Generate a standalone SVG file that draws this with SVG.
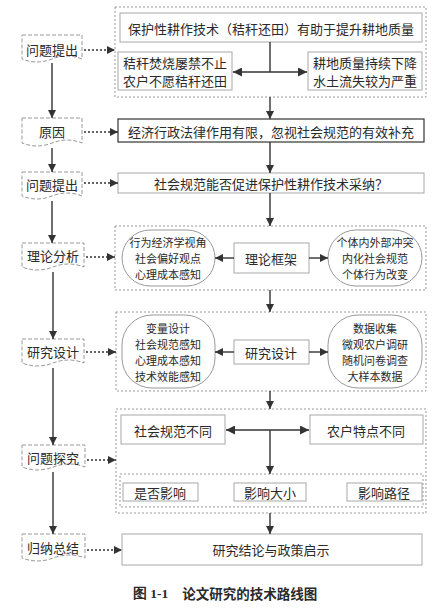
<svg xmlns="http://www.w3.org/2000/svg" width="434" height="612" viewBox="0 0 434 612">
<defs>
<style>
text{font-family:"Noto Sans CJK SC","Noto Sans",sans-serif;fill:#2a2a2a;font-size:13px;text-anchor:middle;dominant-baseline:central}
.sm{font-size:11px}
.box{fill:#fff;stroke:#a8a8a8;stroke-width:1}
.dark{fill:#fff;stroke:#333;stroke-width:1.2}
.outer{fill:none;stroke:#9a9a9a;stroke-width:1;stroke-dasharray:2,2}
.doc{fill:#fff;stroke:#999;stroke-width:1;stroke-dasharray:4,2}
.pill{fill:#fff;stroke:#999;stroke-width:1}
.ln{fill:none;stroke:#333;stroke-width:1.4}
.dot{fill:none;stroke:#333;stroke-width:1.3;stroke-dasharray:2,2}
</style>
<marker id="ah" viewBox="0 0 10 10" refX="10" refY="5" markerWidth="8" markerHeight="8" markerUnits="userSpaceOnUse" orient="auto"><path d="M0,0 L10,5 L0,10 Z" fill="#333"/></marker>
<marker id="ahs" viewBox="0 0 10 10" refX="10" refY="5" markerWidth="9" markerHeight="9" markerUnits="userSpaceOnUse" orient="auto-start-reverse"><path d="M0,0 L10,5 L0,10 Z" fill="#333"/></marker>
</defs>

<!-- left labels -->
<g id="l1"><path class="doc" d="M22,35 H82 V59 C72,55 62,55 52,59 C42,63 32,63 22,59 Z"/><text x="52" y="49">问题提出</text></g>
<g id="l2"><path class="doc" d="M22,118 H82 V143 C72,139 62,139 52,143 C42,147 32,147 22,143 Z"/><text x="52" y="131">原因</text></g>
<g id="l3"><path class="doc" d="M22,172 H82 V196 C72,192 62,192 52,196 C42,200 32,200 22,196 Z"/><text x="52" y="184">问题提出</text></g>
<g id="l4"><path class="doc" d="M22,243 H84 V267 C74,263 63,263 53,267 C43,271 32,271 22,267 Z"/><text x="53" y="255">理论分析</text></g>
<g id="l5"><path class="doc" d="M22,339 H84 V363 C74,359 63,359 53,363 C43,367 32,367 22,363 Z"/><text x="53" y="351">研究设计</text></g>
<g id="l6"><path class="doc" d="M22,445 H85 V467 C75,463 64,463 53,467 C43,471 32,471 22,467 Z"/><text x="53" y="457">问题探究</text></g>
<g id="l7"><path class="doc" d="M22,534 H85 V558 C75,554 64,554 53,558 C43,562 32,562 22,558 Z"/><text x="53" y="547">归纳总结</text></g>

<!-- stage 1 -->
<g id="s1">
<rect class="outer" x="115" y="7" width="311" height="90"/>
<rect class="box" x="120" y="13" width="302" height="29"/>
<text x="271" y="28">保护性耕作技术（秸秆还田）有助于提升耕地质量</text>
<rect class="box" x="118" y="52" width="114" height="38"/>
<text x="175" y="62">秸秆焚烧屡禁不止</text><text x="175" y="80">农户不愿秸秆还田</text>
<rect class="box" x="308" y="52" width="114" height="38"/>
<text x="365" y="62">耕地质量持续下降</text><text x="365" y="80">水土流失较为严重</text>
</g>
<g id="s2"><rect class="dark" x="118" y="119" width="306" height="23"/><text x="271" y="131">经济行政法律作用有限，忽视社会规范的有效补充</text></g>
<g id="s3"><rect class="box" x="118" y="173" width="306" height="20"/><text x="271" y="183">社会规范能否促进保护性耕作技术采纳？</text></g>

<g id="s4">
<rect class="outer" x="115" y="226" width="311" height="64"/>
<rect class="pill" x="122" y="230" width="93" height="56" rx="28"/>
<text class="sm" x="168" y="242">行为经济学视角</text><text class="sm" x="168" y="258">社会偏好观点</text><text class="sm" x="168" y="274">心理成本感知</text>
<rect class="box" x="234" y="243" width="75" height="30"/><text x="271" y="258">理论框架</text>
<rect class="pill" x="328" y="230" width="94" height="56" rx="28"/>
<text class="sm" x="375" y="242">个体内外部冲突</text><text class="sm" x="375" y="258">内化社会规范</text><text class="sm" x="375" y="274">个体行为改变</text>
</g>

<g id="s5">
<rect class="outer" x="116" y="312" width="310" height="79"/>
<rect class="pill" x="122" y="315" width="93" height="73" rx="30"/>
<text class="sm" x="168" y="328">变量设计</text><text class="sm" x="168" y="344">社会规范感知</text><text class="sm" x="168" y="360">心理成本感知</text><text class="sm" x="168" y="376">技术效能感知</text>
<rect class="box" x="234" y="340" width="75" height="24"/><text x="271" y="352">研究设计</text>
<rect class="pill" x="328" y="315" width="94" height="73" rx="30"/>
<text class="sm" x="375" y="328">数据收集</text><text class="sm" x="375" y="344">微观农户调研</text><text class="sm" x="375" y="360">随机问卷调查</text><text class="sm" x="375" y="376">大样本数据</text>
</g>

<g id="s6">
<rect class="outer" x="116" y="409" width="310" height="104"/>
<rect class="box" x="121" y="415" width="104" height="29"/><text x="173" y="430">社会规范不同</text>
<rect class="box" x="310" y="415" width="113" height="29"/><text x="366" y="430">农户特点不同</text>
<rect class="outer" x="120" y="474" width="303" height="33"/>
<rect class="box" x="123" y="483" width="75" height="18"/><text x="160" y="492">是否影响</text>
<rect class="box" x="234" y="483" width="72" height="18"/><text x="270" y="492">影响大小</text>
<rect class="box" x="347" y="483" width="75" height="18"/><text x="384" y="492">影响路径</text>
</g>

<g id="s7"><rect class="box" x="122" y="534" width="300" height="31"/><text x="271" y="549">研究结论与政策启示</text></g>

<g id="connectors">
<path class="ln" d="M52,63 V118" marker-end="url(#ah)"/>
<path class="ln" d="M52,148 V172" marker-end="url(#ah)"/>
<path class="ln" d="M52,201 V243" marker-end="url(#ah)"/>
<path class="ln" d="M53,272 V339" marker-end="url(#ah)"/>
<path class="ln" d="M53,368 V445" marker-end="url(#ah)"/>
<path class="ln" d="M53,472 V534" marker-end="url(#ah)"/>
<path class="dot" d="M84,50 H115" marker-end="url(#ah)"/>
<path class="dot" d="M84,132 H118" marker-end="url(#ah)"/>
<path class="dot" d="M84,183 H118" marker-end="url(#ah)"/>
<path class="dot" d="M86,257 H115" marker-end="url(#ah)"/>
<path class="dot" d="M86,352 H116" marker-end="url(#ah)"/>
<path class="dot" d="M87,460 H116" marker-end="url(#ah)"/>
<path class="dot" d="M87,550 H122" marker-end="url(#ah)"/>
<path class="ln" d="M270,42 V72"/>
<path class="ln" d="M270,72 H233" marker-end="url(#ahs)"/>
<path class="ln" d="M270,72 H307" marker-end="url(#ahs)"/>
<path class="ln" d="M270,97 V119" marker-end="url(#ah)"/>
<path class="ln" d="M270,142 V173" marker-end="url(#ah)"/>
<path class="ln" d="M270,193 V226" marker-end="url(#ah)"/>
<path class="ln" d="M234,258 H215" marker-end="url(#ah)"/>
<path class="ln" d="M309,258 H328" marker-end="url(#ah)"/>
<path class="ln" d="M270,290 V312" marker-end="url(#ah)"/>
<path class="ln" d="M234,352 H215" marker-end="url(#ah)"/>
<path class="ln" d="M309,352 H328" marker-end="url(#ah)"/>
<path class="ln" d="M270,391 V409" marker-end="url(#ah)"/>
<path class="ln" d="M226,430 H309" marker-start="url(#ahs)" marker-end="url(#ahs)"/>
<path class="ln" d="M270,430 V474" marker-end="url(#ah)"/>
<path class="ln" d="M270,513 V534" marker-end="url(#ah)"/>
</g>

<text x="225" y="593" style="font-size:13.5px;font-weight:bold"><tspan font-family="Liberation Serif,serif">图 1-1</tspan><tspan dx="14">论文研究的技术路线图</tspan></text>
</svg>
